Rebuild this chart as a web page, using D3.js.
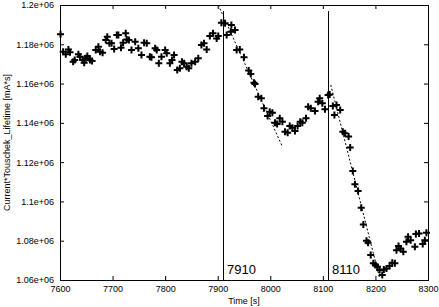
<!DOCTYPE html>
<html>
<head>
<meta charset="utf-8">
<script src="https://cdn.jsdelivr.net/npm/d3@7"></script>
<style>
  body { margin: 0; background: #fff; }
  text { font-family: "Liberation Sans", Arial, sans-serif; }
</style>
</head>
<body>
<div class="canvas"></div>
<script>
// measured points (time [s], current*lifetime [mA*s])
const times = [
  7601, 7606, 7611, 7616, 7619, 7625, 7628, 7635, 7638, 7643, 7646, 7649, 7652, 7657, 7661,
  7668, 7673, 7676, 7681, 7687, 7690, 7694, 7698, 7703, 7708, 7711, 7716, 7720, 7725, 7727,
  7731, 7736, 7743, 7749, 7755, 7760, 7765, 7771, 7774, 7781, 7784, 7788, 7793, 7800, 7803,
  7809, 7813, 7817, 7823, 7828, 7832, 7836, 7841, 7845, 7850, 7857, 7863, 7869, 7874, 7879,
  7885, 7891, 7898, 7901, 7907, 7914, 7917, 7925, 7926, 7933, 7936, 7942, 7950, 7959, 7963,
  7969, 7971, 7977, 7983, 7988, 7995, 7999, 8004, 8009, 8013, 8018, 8023, 8028, 8033, 8037,
  8042, 8047, 8052, 8057, 8061, 8068, 8072, 8077, 8085, 8091, 8094, 8099, 8104, 8110, 8113,
  8119, 8122, 8126, 8133, 8138, 8142, 8149, 8152, 8157, 8161, 8167, 8173, 8177, 8183, 8186,
  8191, 8196, 8200, 8204, 8208, 8213, 8216, 8221, 8227, 8232, 8237, 8240, 8244, 8248, 8253,
  8259, 8262, 8267, 8275, 8277, 8283, 8290, 8294, 8297
]
const values = [
  1.1851, 1.1762, 1.1749, 1.1774, 1.1759, 1.1711, 1.1720, 1.1749, 1.1737, 1.1720, 1.1706, 1.1729, 1.1740, 1.1720, 1.1715,
  1.1771, 1.1788, 1.1762, 1.1757, 1.1822, 1.1839, 1.1805, 1.1805, 1.1776, 1.1847, 1.1847, 1.1783, 1.1808, 1.1856, 1.1825,
  1.1822, 1.1771, 1.1813, 1.1780, 1.1745, 1.1808, 1.1805, 1.1737, 1.1734, 1.1780, 1.1771, 1.1703, 1.1737, 1.1771, 1.1754,
  1.1703, 1.1720, 1.1745, 1.1669, 1.1678, 1.1711, 1.1703, 1.1686, 1.1678, 1.1703, 1.1711, 1.1729, 1.1797, 1.1805, 1.1774,
  1.1842, 1.1856, 1.1830, 1.1842, 1.1910, 1.1907, 1.1847, 1.1864, 1.1898, 1.1873, 1.1771, 1.1774, 1.1734, 1.1666, 1.1649,
  1.1604, 1.1598, 1.1533, 1.1525, 1.1474, 1.1435, 1.1457, 1.1452, 1.1401, 1.1394, 1.1423, 1.1406, 1.1355, 1.1350, 1.1384,
  1.1375, 1.1358, 1.1384, 1.1406, 1.1401, 1.1423, 1.1482, 1.1474, 1.1460, 1.1508, 1.1525, 1.1500, 1.1469, 1.1542, 1.1545,
  1.1486, 1.1440, 1.1491, 1.1465, 1.1355, 1.1347, 1.1330, 1.1275, 1.1155, 1.1087, 1.1053, 1.0968, 1.0883, 1.0800, 1.0790,
  1.0727, 1.0685, 1.0676, 1.0668, 1.0651, 1.0625, 1.0654, 1.0659, 1.0671, 1.0688, 1.0685, 1.0752, 1.0773, 1.0761, 1.0744,
  1.0795, 1.0820, 1.0803, 1.0769, 1.0834, 1.0837, 1.0783, 1.0803, 1.0841
].map(v => v * 1e6)

// linear fits drawn as dotted lines
const fitTimes = [[7901, 8023], [8115, 8208]]
const fitValues = [[1.2e6, 1.1279e6], [1.1593e6, 1.0609e6]]

// marker lines
const markers = [7910, 8110]
const markerTop = 1.1969e6

const xTicks = [7600, 7700, 7800, 7900, 8000, 8100, 8200, 8300]
const yTicks = [1.06e6, 1.08e6, 1.1e6, 1.12e6, 1.14e6, 1.16e6, 1.18e6, 1.2e6]
const yTickLabels = ['1.06e+06', '1.08e+06', '1.1e+06', '1.12e+06', '1.14e+06', '1.16e+06', '1.18e+06', '1.2e+06']

const width = 439
const height = 307
const margin = { top: 5, right: 11, bottom: 27, left: 60 }
const graphWidth = width - margin.left - margin.right
const graphHeight = height - margin.top - margin.bottom

const svg = d3.select('.canvas')
  .append('svg')
  .attr('width', width)
  .attr('height', height)

const graph = svg.append('g')
  .attr('transform', `translate(${margin.left}, ${margin.top})`)

// scales
const x = d3.scaleLinear().domain([7600, 8300]).range([0, graphWidth])
const y = d3.scaleLinear().domain([1.06e6, 1.2e6]).range([graphHeight, 0])

// axes, ticks pointing inward like gnuplot
const tickLen = 4
const xAxis = d3.axisBottom(x).tickValues(xTicks).tickSizeInner(-tickLen).tickSizeOuter(0).tickPadding(6).tickFormat(d3.format('d'))
const xAxisTop = d3.axisTop(x).tickValues(xTicks).tickSizeInner(-tickLen).tickSizeOuter(0).tickFormat('')
const yAxis = d3.axisLeft(y).tickValues(yTicks).tickSizeInner(-tickLen).tickSizeOuter(0).tickPadding(6)
  .tickFormat((d, i) => yTickLabels[i])
const yAxisRight = d3.axisRight(y).tickValues(yTicks).tickSizeInner(-tickLen).tickSizeOuter(0).tickFormat('')

const styleAxis = g => {
  g.select('.domain').remove()
  g.selectAll('line').attr('stroke', '#000')
  g.selectAll('text').attr('fill', '#000').attr('font-size', 9)
}

graph.append('g').attr('transform', `translate(0, ${graphHeight})`).call(xAxis).call(styleAxis)
graph.append('g').call(xAxisTop).call(styleAxis)
graph.append('g').call(yAxis).call(styleAxis)
graph.append('g').attr('transform', `translate(${graphWidth}, 0)`).call(yAxisRight).call(styleAxis)

// frame
graph.append('rect')
  .attr('x', 0.5)
  .attr('y', 0.5)
  .attr('width', graphWidth)
  .attr('height', graphHeight)
  .attr('fill', 'none')
  .attr('stroke', '#000')
  .attr('stroke-width', 1)

// vertical marker lines + labels
graph.selectAll('line.marker')
  .data(markers)
  .enter()
  .append('line')
  .attr('class', 'marker')
  .attr('x1', d => Math.round(x(d)) + 0.5)
  .attr('x2', d => Math.round(x(d)) + 0.5)
  .attr('y1', y(markerTop))
  .attr('y2', graphHeight)
  .attr('stroke', '#000')
  .attr('stroke-width', 1)

graph.selectAll('text.marker')
  .data(markers)
  .enter()
  .append('text')
  .attr('class', 'marker')
  .attr('x', d => x(d) + 4)
  .attr('y', graphHeight - 6)
  .attr('font-size', 13)
  .text(d => d)

// dotted fit lines
const line = d3.line().x(d => x(d[0])).y(d => y(d[1]))
fitTimes.forEach((ts, i) => {
  graph.append('path')
    .attr('d', line(ts.map((t, j) => [t, fitValues[i][j]])))
    .attr('fill', 'none')
    .attr('stroke', '#000')
    .attr('stroke-width', 1)
    .attr('stroke-dasharray', '2,2')
})

// data points as '+' markers
const pts = times.map((t, i) => ({ t, v: values[i] }))
graph.selectAll('path.pt')
  .data(pts)
  .enter()
  .append('path')
  .attr('class', 'pt')
  .attr('d', d => {
    const px = x(d.t), py = y(d.v)
    return `M${px - 3.5},${py}H${px + 3.5}M${px},${py - 3.5}V${py + 3.5}`
  })
  .attr('stroke', '#000')
  .attr('stroke-width', 2)

// axis titles
svg.append('text')
  .attr('x', margin.left + graphWidth / 2)
  .attr('y', 304)
  .attr('text-anchor', 'middle')
  .attr('font-size', 9)
  .text('Time [s]')

svg.append('text')
  .attr('transform', `translate(10, ${margin.top + graphHeight / 2}) rotate(-90)`)
  .attr('text-anchor', 'middle')
  .attr('font-size', 9)
  .text('Current*Touschek_Lifetime [mA*s]')
</script>
</body>
</html>
